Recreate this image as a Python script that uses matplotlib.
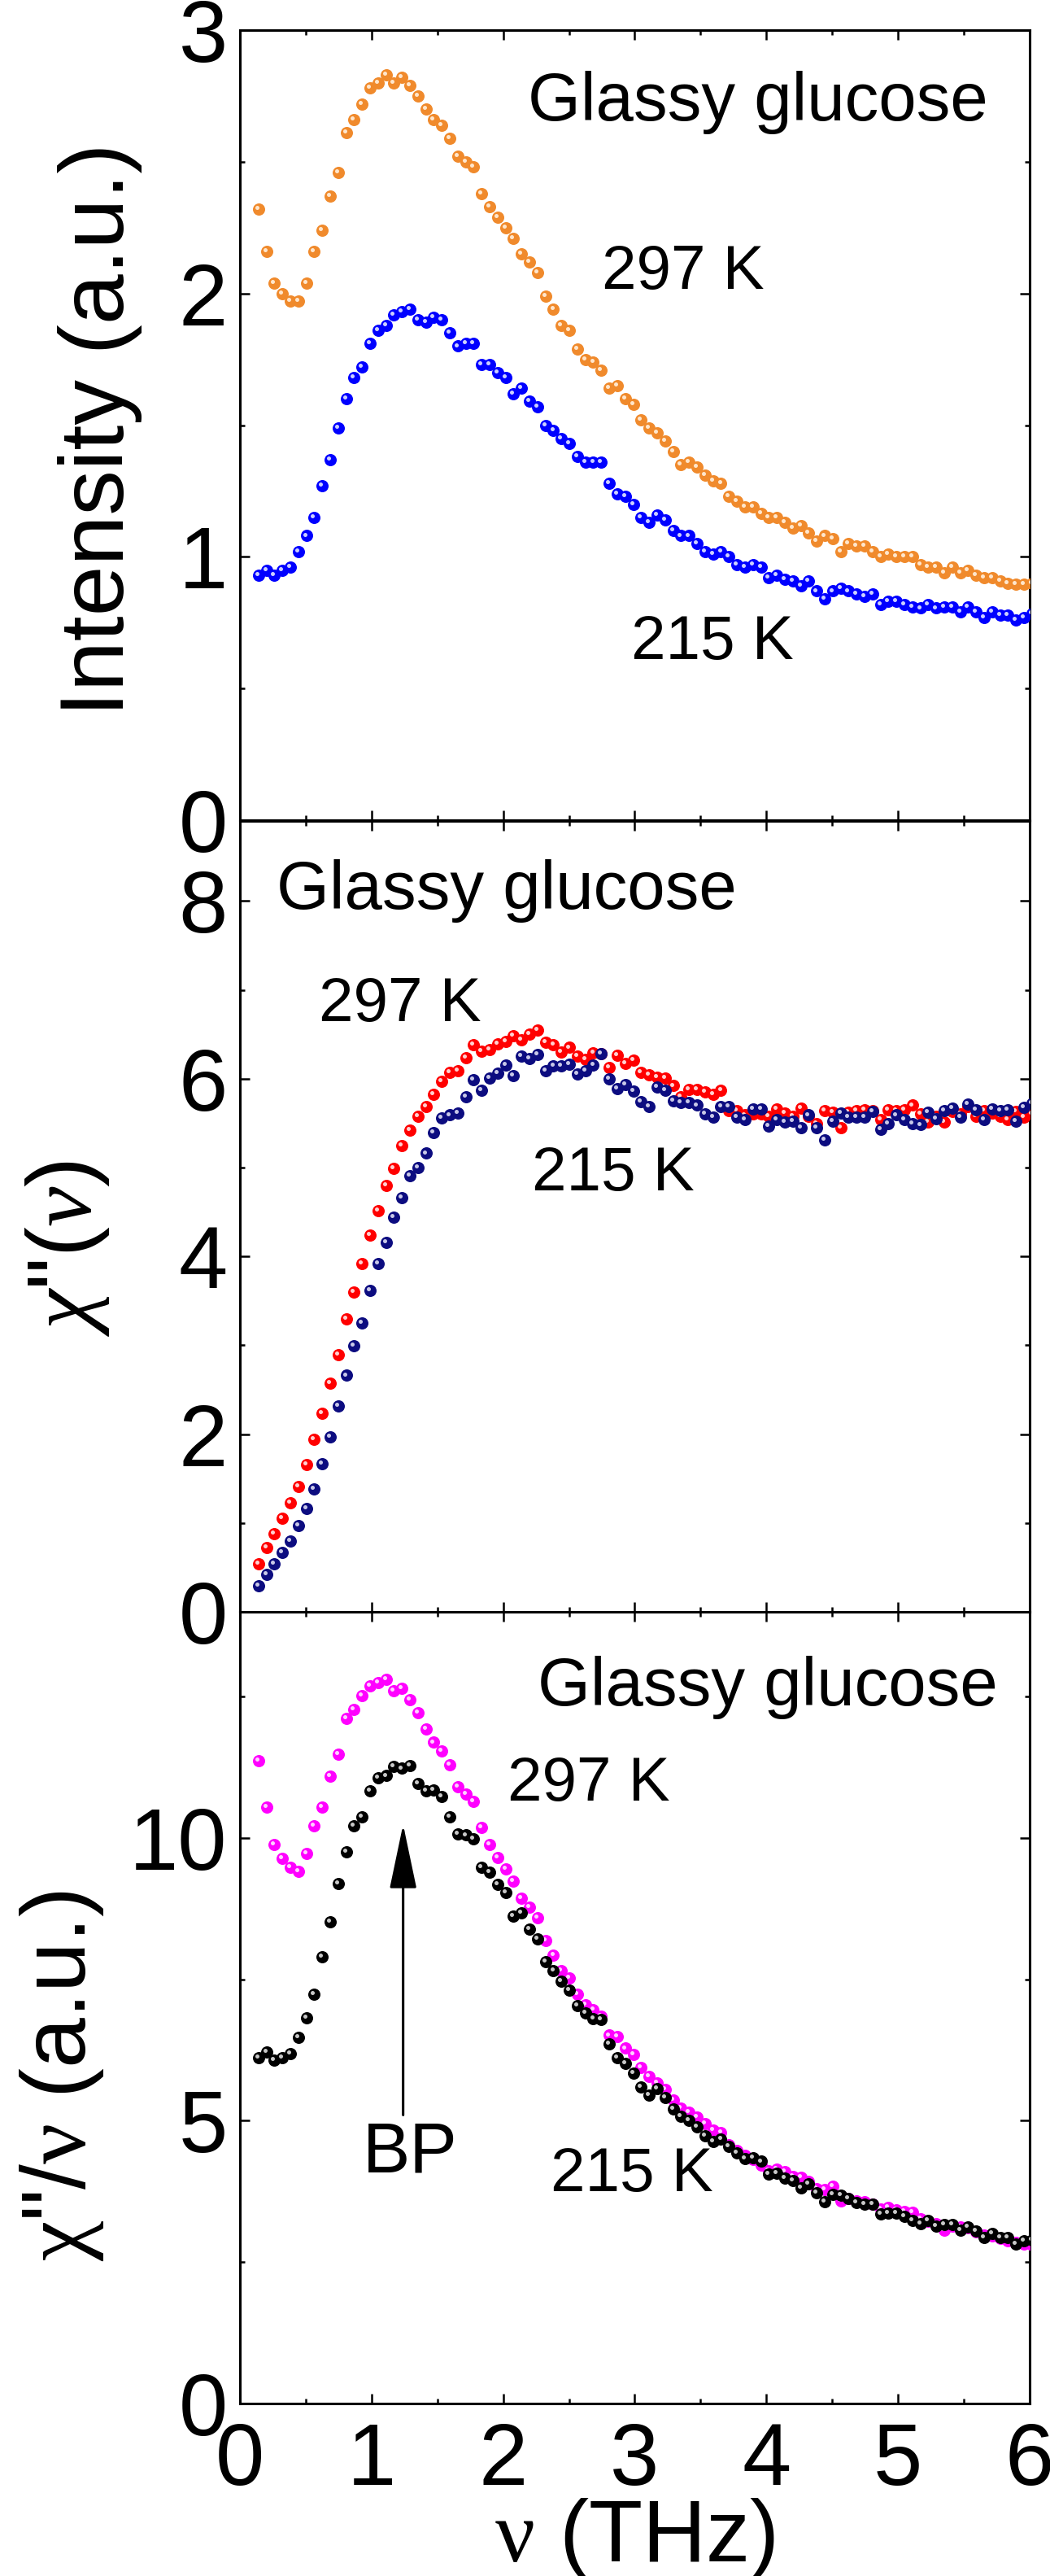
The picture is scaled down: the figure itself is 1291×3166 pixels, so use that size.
import matplotlib
matplotlib.use("Agg")
import matplotlib.pyplot as plt
from matplotlib.ticker import MultipleLocator
from matplotlib.transforms import offset_copy

plt.rcParams['font.family'] = ['Liberation Sans', 'DejaVu Sans']
plt.rcParams['mathtext.fontset'] = 'custom'
plt.rcParams['mathtext.rm'] = 'Liberation Serif'
plt.rcParams['mathtext.it'] = 'Liberation Serif:italic'

# frequency grid (THz), shared by all series
FREQ = [0.140, 0.201, 0.261, 0.322, 0.382, 0.443, 0.504, 0.564, 0.625, 0.685,
        0.746, 0.807, 0.867, 0.928, 0.988, 1.049, 1.110, 1.170, 1.231, 1.291,
        1.352, 1.413, 1.473, 1.534, 1.594, 1.655, 1.716, 1.776, 1.837, 1.897,
        1.958, 2.019, 2.079, 2.140, 2.200, 2.261, 2.322, 2.382, 2.443, 2.503,
        2.564, 2.625, 2.685, 2.746, 2.806, 2.867, 2.928, 2.988, 3.049, 3.109,
        3.170, 3.231, 3.291, 3.352, 3.412, 3.473, 3.534, 3.594, 3.655, 3.715,
        3.776, 3.837, 3.897, 3.958, 4.018, 4.079, 4.140, 4.200, 4.261, 4.321,
        4.382, 4.443, 4.503, 4.564, 4.624, 4.685, 4.746, 4.806, 4.867, 4.927,
        4.988, 5.049, 5.109, 5.170, 5.230, 5.291, 5.352, 5.412, 5.473, 5.533,
        5.594, 5.655, 5.715, 5.776, 5.836, 5.897, 5.958, 6.018]

# top panel: intensity
int_297 = [2.32, 2.16, 2.04, 2.00, 1.97, 1.97, 2.04, 2.16, 2.24, 2.37,
           2.46, 2.61, 2.66, 2.72, 2.78, 2.80, 2.83, 2.80, 2.82, 2.79,
           2.75, 2.70, 2.66, 2.64, 2.59, 2.52, 2.50, 2.48, 2.38, 2.33,
           2.29, 2.25, 2.21, 2.15, 2.12, 2.08, 1.99, 1.94, 1.88, 1.86,
           1.79, 1.75, 1.74, 1.71, 1.64, 1.65, 1.60, 1.58, 1.52, 1.49,
           1.47, 1.44, 1.40, 1.35, 1.36, 1.34, 1.31, 1.29, 1.28, 1.23,
           1.21, 1.19, 1.19, 1.165, 1.15, 1.15, 1.13, 1.11, 1.12, 1.09,
           1.06, 1.08, 1.07, 1.02, 1.05, 1.04, 1.04, 1.02, 1.00, 1.01,
           1.00, 1.00, 1.00, 0.97, 0.96, 0.96, 0.94, 0.96, 0.94, 0.95,
           0.93, 0.92, 0.92, 0.91, 0.90, 0.895, 0.895, 0.90]
int_215 = [0.93, 0.95, 0.93, 0.95, 0.96, 1.02, 1.08, 1.15, 1.27, 1.37,
           1.49, 1.60, 1.68, 1.72, 1.81, 1.86, 1.88, 1.92, 1.93, 1.94,
           1.90, 1.89, 1.91, 1.90, 1.85, 1.80, 1.81, 1.81, 1.73, 1.73,
           1.70, 1.68, 1.62, 1.64, 1.59, 1.57, 1.50, 1.48, 1.45, 1.43,
           1.38, 1.36, 1.36, 1.36, 1.28, 1.24, 1.23, 1.20, 1.15, 1.13,
           1.16, 1.14, 1.10, 1.08, 1.08, 1.05, 1.02, 1.01, 1.02, 1.00,
           0.97, 0.96, 0.97, 0.96, 0.92, 0.93, 0.915, 0.91, 0.89, 0.91,
           0.87, 0.84, 0.87, 0.88, 0.87, 0.86, 0.85, 0.86, 0.82, 0.83,
           0.83, 0.82, 0.81, 0.805, 0.82, 0.805, 0.81, 0.81, 0.79, 0.81,
           0.79, 0.77, 0.79, 0.78, 0.78, 0.76, 0.77, 0.785]

# middle panel: susceptibility chi''
chi_297 = [0.54, 0.72, 0.88, 1.05, 1.23, 1.41, 1.66, 1.94, 2.23, 2.57,
           2.89, 3.30, 3.60, 3.92, 4.24, 4.51, 4.80, 4.99, 5.25, 5.42,
           5.58, 5.69, 5.82, 5.97, 6.07, 6.09, 6.24, 6.38, 6.31, 6.33,
           6.39, 6.42, 6.48, 6.44, 6.50, 6.55, 6.41, 6.38, 6.30, 6.35,
           6.25, 6.22, 6.29, 6.28, 6.13, 6.26, 6.17, 6.21, 6.07, 6.04,
           6.02, 6.01, 5.92, 5.80, 5.88, 5.88, 5.85, 5.82, 5.87, 5.64,
           5.64, 5.59, 5.60, 5.60, 5.58, 5.66, 5.61, 5.58, 5.67, 5.58,
           5.49, 5.64, 5.62, 5.45, 5.62, 5.64, 5.65, 5.64, 5.54, 5.65,
           5.64, 5.65, 5.70, 5.60, 5.51, 5.58, 5.51, 5.63, 5.60, 5.69,
           5.58, 5.64, 5.61, 5.58, 5.54, 5.63, 5.57, 5.60]
chi_215 = [0.29, 0.42, 0.54, 0.67, 0.80, 0.97, 1.16, 1.38, 1.67, 1.97,
           2.32, 2.66, 2.99, 3.25, 3.62, 3.92, 4.16, 4.44, 4.66, 4.91,
           5.00, 5.16, 5.39, 5.56, 5.59, 5.61, 5.80, 5.99, 5.87, 6.01,
           6.06, 6.15, 6.03, 6.25, 6.23, 6.27, 6.09, 6.14, 6.14, 6.16,
           6.05, 6.09, 6.15, 6.28, 6.00, 5.89, 5.93, 5.86, 5.74, 5.69,
           5.91, 5.87, 5.75, 5.73, 5.73, 5.70, 5.60, 5.57, 5.69, 5.69,
           5.57, 5.54, 5.66, 5.66, 5.47, 5.54, 5.51, 5.52, 5.45, 5.59,
           5.45, 5.31, 5.52, 5.61, 5.57, 5.57, 5.57, 5.63, 5.43, 5.49,
           5.59, 5.54, 5.49, 5.48, 5.62, 5.55, 5.64, 5.67, 5.57, 5.71,
           5.65, 5.54, 5.66, 5.64, 5.65, 5.52, 5.68, 5.72]

# bottom panel: chi''/nu
red_297 = [11.37, 10.55, 9.89, 9.64, 9.48, 9.41, 9.72, 10.22, 10.55, 11.09,
           11.48, 12.11, 12.27, 12.52, 12.69, 12.75, 12.80, 12.61, 12.65, 12.44,
           12.21, 11.93, 11.69, 11.54, 11.29, 10.91, 10.78, 10.65, 10.18, 9.89,
           9.66, 9.45, 9.24, 8.93, 8.77, 8.59, 8.18, 7.93, 7.66, 7.53,
           7.23, 7.05, 6.97, 6.85, 6.51, 6.49, 6.28, 6.17, 5.94, 5.79,
           5.67, 5.55, 5.36, 5.22, 5.15, 5.07, 4.95, 4.84, 4.79, 4.58,
           4.47, 4.38, 4.32, 4.21, 4.12, 4.14, 4.10, 4.02, 4.00, 3.92,
           3.80, 3.78, 3.84, 3.58, 3.62, 3.58, 3.56, 3.52, 3.44, 3.46,
           3.42, 3.40, 3.38, 3.26, 3.22, 3.18, 3.06, 3.14, 3.12, 3.10,
           3.04, 2.98, 2.96, 2.92, 2.88, 2.85, 2.82, 2.80]
red_215 = [6.12, 6.21, 6.07, 6.11, 6.18, 6.48, 6.82, 7.24, 7.90, 8.52,
           9.19, 9.75, 10.21, 10.38, 10.83, 11.06, 11.10, 11.26, 11.23, 11.28,
           10.97, 10.83, 10.85, 10.74, 10.38, 10.07, 10.05, 9.99, 9.48, 9.40,
           9.18, 9.04, 8.62, 8.67, 8.39, 8.22, 7.81, 7.65, 7.47, 7.31,
           7.03, 6.90, 6.80, 6.79, 6.36, 6.12, 6.02, 5.84, 5.60, 5.45,
           5.57, 5.41, 5.21, 5.08, 5.00, 4.89, 4.73, 4.63, 4.67, 4.55,
           4.43, 4.33, 4.35, 4.28, 4.05, 4.07, 3.99, 3.94, 3.81, 3.89,
           3.73, 3.57, 3.70, 3.68, 3.62, 3.55, 3.53, 3.53, 3.35, 3.37,
           3.37, 3.31, 3.24, 3.18, 3.24, 3.14, 3.17, 3.16, 3.07, 3.12,
           3.05, 2.94, 3.00, 2.94, 2.93, 2.82, 2.88, 2.89]

fig = plt.figure(figsize=(12.91, 31.66), dpi=100)
ax1 = fig.add_axes([0.2285, 0.6816, 0.7521, 0.3067])
ax2 = fig.add_axes([0.2285, 0.3743, 0.7521, 0.3070])
ax3 = fig.add_axes([0.2285, 0.0670, 0.7521, 0.3073])


def balls(ax, x, y, color, shine):
    # ball markers: solid dot + small offset highlight
    ax.plot(x, y, 'o', ms=10.8, color=color, mec='none', zorder=3)
    tr = offset_copy(ax.transData, fig=ax.figure, x=-1.4, y=1.4, units='points')
    ax.plot(x, y, 'o', ms=3.6, color=shine, mec='none', transform=tr, zorder=3)


def style(ax, ymax, major, minor, show_x):
    ax.set_xlim(0, 6)
    ax.set_ylim(0, ymax)
    ax.xaxis.set_major_locator(MultipleLocator(1))
    ax.xaxis.set_minor_locator(MultipleLocator(0.5))
    ax.yaxis.set_major_locator(MultipleLocator(major))
    ax.yaxis.set_minor_locator(MultipleLocator(minor))
    ax.tick_params(which='both', direction='in', top=True, right=True,
                   width=1.8, labelsize=78)
    ax.tick_params(which='major', length=8.6)
    ax.tick_params(which='minor', length=4.3)
    ax.tick_params(axis='y', pad=11)
    ax.tick_params(axis='x', pad=16, labelbottom=show_x)
    for s in ax.spines.values():
        s.set_linewidth(2.2)


# top
balls(ax1, FREQ, int_297, '#F08A2C', '#FFE6CC')
balls(ax1, FREQ, int_215, '#0000FF', '#CCD0FF')
style(ax1, 3, 1, 0.5, False)
ax1.set_ylabel('Intensity (a.u.)', fontsize=80)
ax1.yaxis.set_label_coords(-0.124, 0.495)
ax1.text(2.19, 2.657, 'Glassy glucose', fontsize=60)
ax1.text(2.75, 2.017, '297 K', fontsize=55)
ax1.text(2.97, 0.612, '215 K', fontsize=55)

# middle
balls(ax2, FREQ, chi_297, '#FF0000', '#FFD0D0')
balls(ax2, FREQ, chi_215, '#0C0C80', '#C8C8E8')
style(ax2, 8.9, 2, 1, False)
ax2.set_ylabel(r'$\chi$"($\nu$)', fontsize=80)
ax2.yaxis.set_label_coords(-0.163, 0.46)
ax2.text(0.28, 7.91, 'Glassy glucose', fontsize=60)
ax2.text(0.60, 6.645, '297 K', fontsize=55)
ax2.text(2.22, 4.739, '215 K', fontsize=55)

# bottom
balls(ax3, FREQ, red_297, '#FF00FF', '#FFD0FF')
balls(ax3, FREQ, red_215, '#000000', '#C8C8C8')
style(ax3, 14, 5, 2.5, True)
ax3.set_ylabel(r'$\mathrm{\chi}$"/$\mathrm{\nu}$ (a.u.)', fontsize=80)
ax3.yaxis.set_label_coords(-0.17, 0.414)
ax3.set_xlabel(r'$\mathrm{\nu}$ (THz)', fontsize=78, labelpad=-6)
ax3.text(2.26, 12.35, 'Glassy glucose', fontsize=60)
ax3.text(2.03, 10.66, '297 K', fontsize=55)
ax3.text(2.36, 3.76, '215 K', fontsize=55)
ax3.text(0.93, 4.09, 'BP', fontsize=63)
ax3.annotate('', xy=(1.24, 10.24), xytext=(1.24, 5.1),
             arrowprops=dict(arrowstyle='-|>,head_length=5.0,head_width=1.05',
                             mutation_scale=10, lw=2.2, color='k',
                             shrinkA=0, shrinkB=0))

fig.savefig('out.png', dpi=100)
